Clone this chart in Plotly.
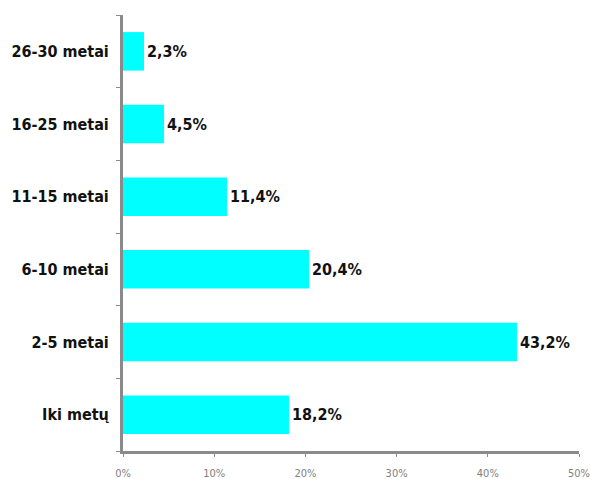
import plotly.graph_objects as go

# Work experience groups (bottom to top) and their shares in percent
categories = ["Iki metų", "2-5 metai", "6-10 metai", "11-15 metai", "16-25 metai", "26-30 metai"]
shares = [18.2, 43.2, 20.4, 11.4, 4.5, 2.3]
x_tick_values = [0, 10, 20, 30, 40, 50]
x_tick_labels = ["0%", "10%", "20%", "30%", "40%", "50%"]

label_font = "DejaVu Sans Condensed, Liberation Sans Narrow, sans-serif"

fig = go.Figure(
    go.Bar(
        x=shares,
        y=categories,
        orientation="h",
        marker=dict(color="#00FFFF", line=dict(width=0)),
        texttemplate="<b>%{x:.1f}%</b>",
        textposition="outside",
        cliponaxis=False,
        textfont=dict(family=label_font, size=16, color="#111111"),
    )
)

fig.update_layout(
    width=591,
    height=479,
    margin=dict(l=123, r=12, t=15, b=28),
    paper_bgcolor="white",
    plot_bgcolor="white",
    separators=", ",
    bargap=0.47,
    showlegend=False,
    xaxis=dict(
        range=[0, 50],
        tickvals=x_tick_values,
        ticktext=x_tick_labels,
        automargin=False,
        showgrid=False,
        zeroline=False,
        showline=True,
        linecolor="#8a8a8a",
        linewidth=3,
        ticks="outside",
        ticklen=3,
        tickwidth=1,
        tickcolor="#8a8a8a",
        ticklabelstandoff=7,
        tickfont=dict(family=label_font, size=11, color="#808080"),
    ),
    yaxis=dict(
        categoryorder="array",
        categoryarray=categories,
        tickson="boundaries",
        automargin=False,
        showgrid=False,
        zeroline=False,
        showline=True,
        linecolor="#8a8a8a",
        linewidth=3,
        ticks="outside",
        ticklen=4,
        tickwidth=1,
        tickcolor="#8a8a8a",
        ticklabelstandoff=8,
        tickfont=dict(family=label_font, size=16, color="#111111"),
    ),
)

fig.update_yaxes(tickprefix="<b>", ticksuffix="</b>")

fig.write_html("out.html")
